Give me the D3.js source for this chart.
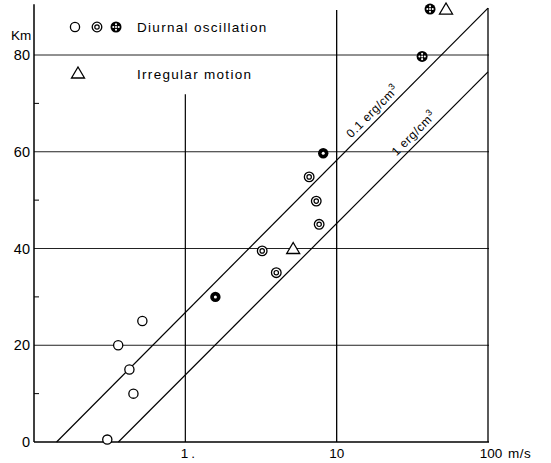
<!DOCTYPE html>
<html><head><meta charset="utf-8">
<script src="https://cdn.jsdelivr.net/npm/d3@7"></script>
<style>
body{margin:0;background:#fff;}
svg{display:block;font-family:"Liberation Sans",Arial,sans-serif;}
</style></head>
<body><svg id="c" width="551" height="463"></svg>
<script>
// ---- data ----
const yTicks = [0, 20, 40, 60, 80];
const yMinor = [10, 30, 50, 70];
const xTicks = [1, 10, 100];
const xTickLabels = ["1.", "10", "100"];
const openCircles   = [[0.305, 0.5], [0.36, 20], [0.427, 15], [0.454, 10], [0.52, 25]];
const doubleCircles = [[3.22, 39.5], [3.99, 35], [6.58, 54.8], [7.33, 49.8], [7.66, 45]];
const filledCircles = [[1.58, 30], [8.15, 59.7]];
const crossCircles  = [[36.7, 79.7], [41.4, 89.5]];
const triangles     = [[5.16, 40], [52.8, 89.5]];
const energyLabels  = ["0.1 erg/cm", "1 erg/cm"];
const energyLines   = [[[0.141, 0], [100, 89.7]], [[0.361, 0], [100, 76.5]]];
const legendLabels  = ["Diurnal oscillation", "Irregular motion"];

// ---- layout ----
const svg = d3.select("#c");
const x = d3.scaleLog().domain([0.1, 100]).range([34, 488]);
const y = d3.scaleLinear().domain([0, 80]).range([442, 55]);
const ink = "#000";

// grid
const g = svg.append("g").attr("stroke", ink).attr("stroke-width", 1).attr("fill", "none");
yTicks.forEach(v => g.append("line").attr("x1", x(0.1)).attr("x2", x(100) + 1)
  .attr("y1", y(v)).attr("y2", y(v)).attr("stroke-width", v === 0 ? 1.4 : 1).attr("stroke", v === 0 ? ink : "#222"));
const vTop = {1: 71.9, 10: 89.3, 100: 89.7};
xTicks.forEach(v => g.append("line").attr("x1", x(v)).attr("x2", x(v))
  .attr("y1", y(vTop[v])).attr("y2", y(0)).attr("stroke-width", v === 1 ? 1.2 : 1.3));
// y axis
g.append("line").attr("x1", x(0.1)).attr("x2", x(0.1)).attr("y1", y(90.5)).attr("y2", y(0)).attr("stroke-width", 1.5);
yMinor.forEach(v => g.append("line").attr("x1", x(0.1)).attr("x2", x(0.1) + 5).attr("y1", y(v)).attr("y2", y(v)));

// tick labels
const t = svg.append("g").attr("fill", ink).attr("font-size", 14.5);
yTicks.forEach(v => t.append("text").attr("x", 30).attr("y", y(v) + 5).attr("text-anchor", "end").text(v));
t.append("text").attr("x", 11).attr("y", 40).attr("font-size", 13.5).text("Km");
xTicks.forEach((v, i) => t.append("text").attr("x", x(v) + (i === 0 ? 4 : i === 2 ? 3 : 0)).attr("y", 458)
  .attr("text-anchor", "middle").attr("font-size", 13.5).attr("letter-spacing", i === 0 ? 3 : 0).text(xTickLabels[i]));
t.append("text").attr("x", 508).attr("y", 458).attr("font-size", 13.5).attr("letter-spacing", 0.5).text("m/s");

// energy lines
const line = d3.line().x(d => x(d[0])).y(d => y(d[1]));
const labelAtX = [13.2, 26.2];
energyLines.forEach((pts, i) => {
  svg.append("path").attr("d", line(pts)).attr("stroke", ink).attr("stroke-width", 1.2).attr("fill", "none");
  const [p0, p1] = pts;
  const ang = Math.atan2(y(p1[1]) - y(p0[1]), x(p1[0]) - x(p0[0]));
  const lx = labelAtX[i];
  const f = (Math.log10(lx) - Math.log10(p0[0])) / (Math.log10(p1[0]) - Math.log10(p0[0]));
  const ly = p0[1] + f * (p1[1] - p0[1]);
  const px = x(lx) + 5 * Math.sin(ang), py = y(ly) - 5 * Math.cos(ang);
  const tx = svg.append("text").attr("transform", `translate(${px},${py}) rotate(${ang * 180 / Math.PI})`)
    .attr("font-size", 12).attr("letter-spacing", 0.6).attr("fill", ink);
  tx.append("tspan").text(energyLabels[i]);
  tx.append("tspan").attr("dy", -5).attr("font-size", 9).text("3");
});

// symbols
function openC(sel, cx, cy) { sel.append("circle").attr("cx", cx).attr("cy", cy).attr("r", 4.6).attr("fill", "#fff").attr("stroke", ink).attr("stroke-width", 1.3); }
function doubleC(sel, cx, cy) {
  sel.append("circle").attr("cx", cx).attr("cy", cy).attr("r", 4.8).attr("fill", "#fff").attr("stroke", ink).attr("stroke-width", 1.3);
  sel.append("circle").attr("cx", cx).attr("cy", cy).attr("r", 2.2).attr("fill", "#fff").attr("stroke", ink).attr("stroke-width", 1.2);
}
function filledC(sel, cx, cy) {
  sel.append("circle").attr("cx", cx).attr("cy", cy).attr("r", 5.2).attr("fill", ink);
  sel.append("circle").attr("cx", cx).attr("cy", cy).attr("r", 1.5).attr("fill", "#fff");
}
function crossC(sel, cx, cy) {
  sel.append("circle").attr("cx", cx).attr("cy", cy).attr("r", 5.5).attr("fill", ink);
  [[0, -2.7], [0, 2.7], [-2.7, 0], [2.7, 0], [0, 0]].forEach(o =>
    sel.append("circle").attr("cx", cx + o[0]).attr("cy", cy + o[1]).attr("r", 1.05).attr("fill", "#fff"));
}
function tri(sel, cx, cy) {
  sel.append("path").attr("d", `M${cx},${cy - 6}L${cx + 6.5},${cy + 5}L${cx - 6.5},${cy + 5}Z`)
    .attr("fill", "#fff").attr("stroke", ink).attr("stroke-width", 1.3);
}
const s = svg.append("g");
openCircles.forEach(d => openC(s, x(d[0]), y(d[1])));
doubleCircles.forEach(d => doubleC(s, x(d[0]), y(d[1])));
filledCircles.forEach(d => filledC(s, x(d[0]), y(d[1])));
crossCircles.forEach(d => crossC(s, x(d[0]), y(d[1])));
triangles.forEach(d => tri(s, x(d[0]), y(d[1])));

// legend
const L = svg.append("g");
openC(L, 75, 27); doubleC(L, 97, 27); crossC(L, 116, 27); tri(L, 78, 73);
L.append("text").attr("x", 137).attr("y", 32).attr("font-size", 13.5).attr("letter-spacing", 1.3).attr("fill", ink).text(legendLabels[0]);
L.append("text").attr("x", 137).attr("y", 79).attr("font-size", 13.5).attr("letter-spacing", 1.3).attr("fill", ink).text(legendLabels[1]);
</script></body></html>
